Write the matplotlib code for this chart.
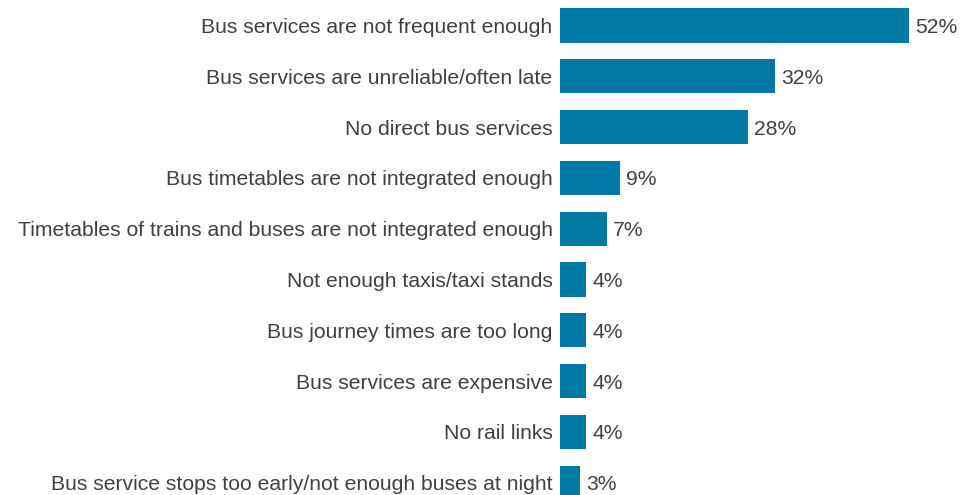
import matplotlib
matplotlib.use("Agg")
import matplotlib.pyplot as plt

categories = [
    "Bus services are not frequent enough",
    "Bus services are unreliable/often late",
    "No direct bus services",
    "Bus timetables are not integrated enough",
    "Timetables of trains and buses are not integrated enough",
    "Not enough taxis/taxi stands",
    "Bus journey times are too long",
    "Bus services are expensive",
    "No rail links",
    "Bus service stops too early/not enough buses at night",
]
values = [52, 32, 28, 9, 7, 4, 4, 4, 4, 3]

bar_color = "#007AA5"
text_color = "#404040"

plt.rcParams["font.family"] = ["Liberation Sans", "DejaVu Sans"]

fig = plt.figure(figsize=(9.63, 4.95), dpi=100)
ax = fig.add_axes([559.5 / 963, 0, 403.4 / 963, 1])

pos = list(range(len(categories)))
ax.barh(pos, values, height=0.67, color=bar_color)

for y, v in zip(pos, values):
    ax.annotate(f"{v}%", (v, y), xytext=(4.6, 0), textcoords="offset points",
                va="center_baseline", ha="left", fontsize=15.2, color=text_color)

ax.set_xlim(0, 60)
ax.set_ylim(9.242, -0.502)
ax.set_yticks(pos)
ax.set_yticklabels(categories, fontsize=15.2, color=text_color)
ax.tick_params(axis="y", length=0, pad=5)
ax.set_xticks([])
for s in ax.spines.values():
    s.set_visible(False)

fig.savefig("out.png", dpi=100)
